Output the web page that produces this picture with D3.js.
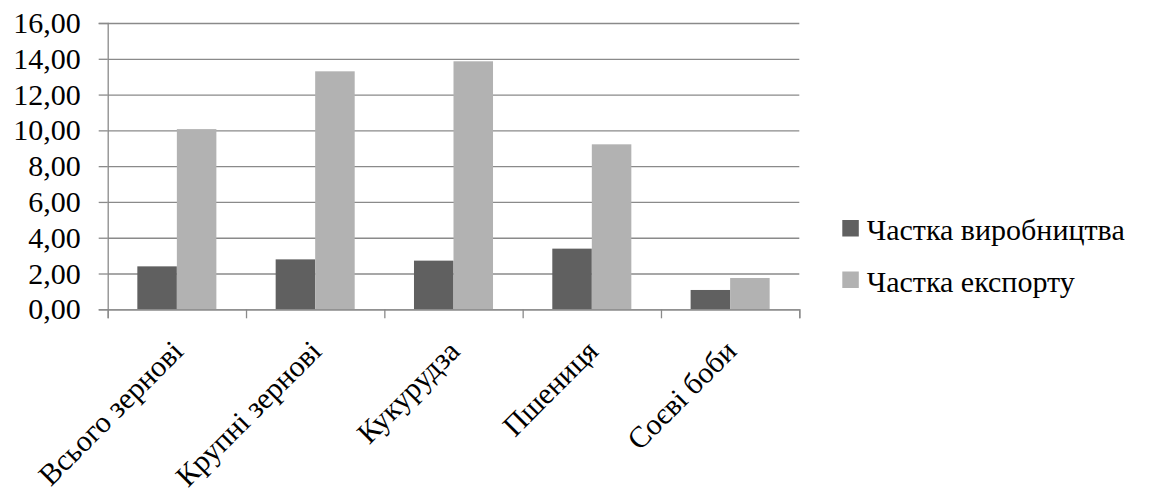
<!DOCTYPE html>
<html>
<head>
<script src="https://cdn.jsdelivr.net/npm/d3@7"></script>
</head>
<body style="margin:0">
<script>
// дані з діаграми
var categories = ['Всього зернові', 'Крупні зернові', 'Кукурудза', 'Пшениця', 'Соєві боби'];
var seriesNames = ['Частка виробництва', 'Частка експорту'];
var production = [2.40, 2.79, 2.72, 3.39, 1.08];
var exportShare = [10.07, 13.30, 13.86, 9.22, 1.75];
var yTicks = [0, 2, 4, 6, 8, 10, 12, 14, 16];
var colors = ['#606060', '#b2b2b2'];

var W = 1153, H = 492;
var pLeft = 107.7, pRight = 799.3, pTop = 23, pBottom = 309.3;

var svg = d3.select('body').append('svg').attr('width', W).attr('height', H);

var x = d3.scaleBand().domain(categories).range([pLeft, pRight]).padding(0);
var x1 = d3.scaleBand().domain([0, 1]).range([0, x.bandwidth()]).paddingInner(0).paddingOuter(0.75);
var y = d3.scaleLinear().domain([0, 16]).range([pBottom, pTop]);
var xEdge = d3.scaleLinear().domain([0, categories.length]).range([pLeft, pRight]);

var fmt = function(d){ return d3.format('.2f')(d).replace('.', ','); };
function serif(sel){
    sel.attr('font-size', '30px')
       .style('font-family', function(){ return '"Liberation Serif"'; })
       .attr('fill', '#000');
}

// сітка
svg.append('g')
    .attr('transform', 'translate(' + pLeft + ',0)')
    .call(d3.axisLeft(y).tickValues(yTicks).tickSize(-(pRight - pLeft)).tickFormat(''))
    .call(function(g){ g.select('.domain').remove(); })
    .selectAll('line').attr('stroke', '#8a8a8a').attr('stroke-width', 1.3);

// стовпці
var rows = categories.map(function(c, i){ return { cat: c, vals: [production[i], exportShare[i]] }; });
var grp = svg.selectAll('g.cat')
    .data(rows)
    .enter().append('g')
        .attr('class', 'cat')
        .attr('transform', function(d){ return 'translate(' + x(d.cat) + ',0)'; });

grp.selectAll('rect')
    .data(function(d){ return d.vals; })
    .enter().append('rect')
        .attr('x', function(d, i){ return x1(i); })
        .attr('width', x1.bandwidth())
        .attr('y', function(d){ return y(d); })
        .attr('height', function(d){ return pBottom - y(d); })
        .attr('fill', function(d, i){ return colors[i]; });

// вісь Y
var yAxis = svg.append('g')
    .attr('transform', 'translate(' + pLeft + ',0)')
    .call(d3.axisLeft(y).tickValues(yTicks).tickSize(9).tickPadding(18).tickFormat(fmt));
yAxis.attr('font-family', null).attr('font-size', null);
yAxis.select('.domain').attr('stroke', '#8a8a8a').attr('stroke-width', 1.3);
yAxis.selectAll('line').attr('stroke', '#8a8a8a').attr('stroke-width', 1.3);
yAxis.selectAll('text').call(serif);

// вісь X
var xAxis = svg.append('g')
    .attr('transform', 'translate(0,' + pBottom + ')')
    .call(d3.axisBottom(xEdge).tickValues(d3.range(categories.length + 1)).tickSize(9).tickFormat(''));
xAxis.select('.domain').attr('stroke', '#8a8a8a').attr('stroke-width', 1.3);
xAxis.selectAll('line').attr('stroke', '#8a8a8a').attr('stroke-width', 1.3);

svg.selectAll('text.xlab')
    .data(categories)
    .enter().append('text')
        .attr('class', 'xlab')
        .call(serif)
        .attr('text-anchor', 'end')
        .attr('transform', function(d){
            return 'translate(' + (x(d) + x.bandwidth() / 2 + 8) + ',' + 353 + ') rotate(-45)';
        })
        .text(function(d){ return d; });

// легенда
var leg = svg.selectAll('g.leg')
    .data(seriesNames)
    .enter().append('g')
        .attr('class', 'leg')
        .attr('transform', function(d, i){ return 'translate(842.3,' + (220 + i * 51.5) + ')'; });
leg.append('rect').attr('width', 16.5).attr('height', 16.5)
    .attr('fill', function(d, i){ return colors[i]; });
leg.append('text').attr('x', 24.4).attr('y', 20)
    .call(serif)
    .text(function(d){ return d; });
</script>
</body>
</html>
